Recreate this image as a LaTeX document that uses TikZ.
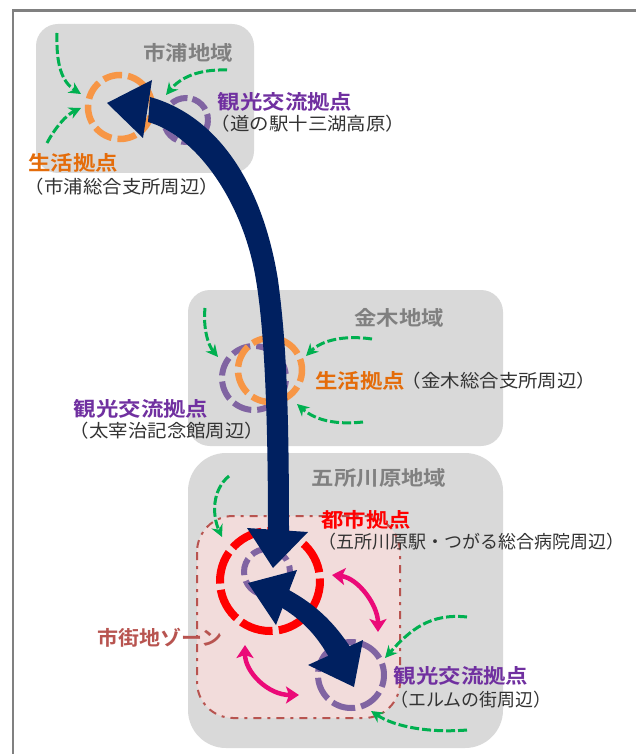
\documentclass[tikz,border=0pt]{standalone}
\usepackage{fontspec}
\setmainfont{Noto Sans CJK JP}
\newfontfamily\boldcjk{Noto Sans CJK JP Bold}
\usetikzlibrary{arrows.meta}
\definecolor{framegray}{HTML}{808080}
\definecolor{areagray}{HTML}{D9D9D9}
\definecolor{zonefill}{HTML}{F2DCDB}
\definecolor{zoneline}{HTML}{B85450}
\definecolor{navyarrow}{HTML}{002060}
\definecolor{greenarrow}{HTML}{00B050}
\definecolor{pinkarrow}{HTML}{EB0A78}
\definecolor{ringorange}{HTML}{F79646}
\definecolor{ringpurple}{HTML}{8064A2}
\definecolor{txtorange}{HTML}{E46C0A}
\definecolor{txtpurple}{HTML}{7030A0}
\tikzset{
  area/.style={fill=areagray,draw=none},
  ringO/.style={draw=ringorange,line width=6.5pt},
  ringP/.style={draw=ringpurple,line width=6pt},
  ringR/.style={draw=red,line width=8pt,dash pattern=on 33pt off 6.27pt,dash phase=2.6pt},
  greenflow/.style={draw=greenarrow,line width=3pt,dash pattern=on 9pt off 3pt,-{Stealth[length=12pt,width=12pt]}},
  pinkflow/.style={draw=pinkarrow,line width=4.5pt,{Stealth[length=13pt,width=17pt,inset=3pt]}-{Stealth[length=13pt,width=17pt,inset=3pt]}},
  head/.style={fill=navyarrow,draw=none},
  wide/.style={xscale=1.12,transform shape,inner sep=0pt},
  areaname/.style={wide,font=\boldcjk\fontsize{20}{20}\selectfont,text=framegray},
  lblO/.style={wide,font=\boldcjk\fontsize{20}{20}\selectfont,text=txtorange},
  lblP/.style={wide,font=\boldcjk\fontsize{20}{20}\selectfont,text=txtpurple},
  lblR/.style={wide,font=\boldcjk\fontsize{20}{20}\selectfont,text=red},
  lblZ/.style={xscale=1.05,transform shape,inner sep=0pt,font=\boldcjk\fontsize{20}{20}\selectfont,text=zoneline},
  note/.style={xscale=1.08,transform shape,inner sep=0pt,font=\fontsize{18}{18}\selectfont,text=black!80},
  noteS/.style={inner sep=0pt,font=\fontsize{18}{18}\selectfont,text=black!80},
}
\begin{document}
\begin{tikzpicture}[x=1pt,y=-1pt]
\useasboundingbox (0,0) rectangle (635,754);
\fill[white] (0,0) rectangle (635,754);
\draw[framegray,line width=2.4pt] (13,760) -- (13,10.5) -- (640,10.5);
% areas
\fill[area,rounded corners=22pt] (36,24) rectangle (254,173);
\fill[area,rounded corners=22pt] (188,290) rectangle (503,446);
\fill[area,rounded corners=38pt] (188,453) rectangle (503,748);
\draw[fill=zonefill,draw=zoneline,line width=2pt,rounded corners=36pt,dash pattern=on 8pt off 6pt on 3pt off 6pt] (197,516) rectangle (400,718);
% centres
\coordinate (ura) at (120,107);
\coordinate (uraT) at (186,120);
\coordinate (kan) at (270,370);
\coordinate (kanT) at (254,378);
\coordinate (gos) at (270,581);
\coordinate (gosT) at (267,572);
\coordinate (elm) at (351,675);
\draw[ringP,dash pattern=on 17pt off 5pt] (uraT) circle[radius=22];
\draw[ringO,dash pattern=on 19pt off 6pt,dash phase=16.2pt] (ura) circle[radius=32];
\draw[ringP,dash pattern=on 19pt off 6pt,dash phase=22pt] (kanT) circle[radius=32];
\draw[ringO,dash pattern=on 22.7pt off 6pt,dash phase=11pt] (kan) circle[radius=32];
\draw[ringP,dash pattern=on 17pt off 6pt] (gosT) circle[radius=23];
\draw[ringR] (gos) circle[radius=50];
\draw[ringP,dash pattern=on 23.6pt off 6pt,dash phase=11.5pt] (elm) circle[radius=33];
% green
\coordinate (g1a) at (57,33);   \coordinate (g1b) at (81,94);
\coordinate (g2a) at (227,70);  \coordinate (g2b) at (166,95);
\coordinate (g3a) at (47,143);  \coordinate (g3b) at (81,108);
\coordinate (g4a) at (205,308); \coordinate (g4b) at (218,357);
\coordinate (g5a) at (372,339); \coordinate (g5b) at (306,356);
\coordinate (g6a) at (363,422); \coordinate (g6b) at (297,404);
\coordinate (g7a) at (229,476); \coordinate (g7b) at (222,537);
\coordinate (g8a) at (467,617); \coordinate (g8b) at (385,658);
\coordinate (g9a) at (467,730); \coordinate (g9b) at (371,711);
\draw[greenflow] (g1a) .. controls (56,65) and (62,82) .. (g1b);
\draw[greenflow] (g2a) .. controls (198,69) and (180,78) .. (g2b);
\draw[greenflow] (g3a) .. controls (55,128) and (66,115) .. (g3b);
\draw[greenflow] (g4a) .. controls (203,328) and (208,345) .. (g4b);
\draw[greenflow] (g5a) .. controls (345,335) and (322,340) .. (g5b);
\draw[greenflow] (g6a) .. controls (335,425) and (315,420) .. (g6b);
\draw[greenflow] (g7a) .. controls (212,490) and (212,515) .. (g7b);
\draw[greenflow] (g8a) .. controls (430,613) and (410,630) .. (g8b);
\draw[greenflow] (g9a) .. controls (430,733) and (395,727) .. (g9b);
% pink
\coordinate (p1a) at (332,575); \coordinate (p1b) at (378,632);
\coordinate (p2a) at (245,645); \coordinate (p2b) at (299,695);
\draw[pinkflow] (p1a) .. controls (358,578) and (378,605) .. (p1b);
\draw[pinkflow] (p2a) .. controls (245,672) and (268,695) .. (p2b);
% navy long arrow
\fill[head] (150,97) .. controls (215,115) and (262,180) .. (278,280)
  .. controls (286,340) and (289,400) .. (289,535) -- (268,535)
  .. controls (268,440) and (266,340) .. (256,280)
  .. controls (243,200) and (195,135) .. (148,122) -- cycle;
\fill[head] (107,103) -- (152,80) -- (143,138) -- cycle;
\fill[head] (273,568) -- (247,528) -- (308,532) -- cycle;
% navy short arrow
\fill[head] (275,583) .. controls (305,597) and (330,615) .. (352,650) -- (335,668)
  .. controls (318,636) and (303,618) .. (268,600) -- cycle;
\fill[head] (248,583) -- (297,570) -- (276,625) -- cycle;
\fill[head] (354,687) -- (363,640) -- (308,665) -- cycle;
% labels
\node[areaname] (tUra) at (188,53) {市浦地域};
\node[lblP] (tUraP) at (285,102) {観光交流拠点};
\node[note] (tUraPn) at (308,124) {（道の駅十三湖高原）};
\node[lblO] (tUraO) at (73,163) {生活拠点};
\node[note] (tUraOn) at (122,187) {（市浦総合支所周辺）};
\node[areaname] (tKan) at (399,318) {金木地域};
\node[lblO] (tKanO) at (360,381) {生活拠点};
\node[note] (tKanOn) at (499,381) {（金木総合支所周辺）};
\node[lblP] (tKanP) at (141,409) {観光交流拠点};
\node[note] (tKanPn) at (167,431) {（太宰治記念館周辺）};
\node[areaname] (tGos) at (379,478) {五所川原地域};
\node[lblR] (tGosR) at (366,520) {都市拠点};
\node[noteS] (tGosRn) at (471,542) {（五所川原駅・つがる総合病院周辺）};
\node[lblZ] (tZone) at (160,638) {市街地ゾーン};
\node[lblP] (tElm) at (461,676) {観光交流拠点};
\node[noteS] (tElmn) at (471,700) {（エルムの街周辺）};
\end{tikzpicture}
\end{document}
